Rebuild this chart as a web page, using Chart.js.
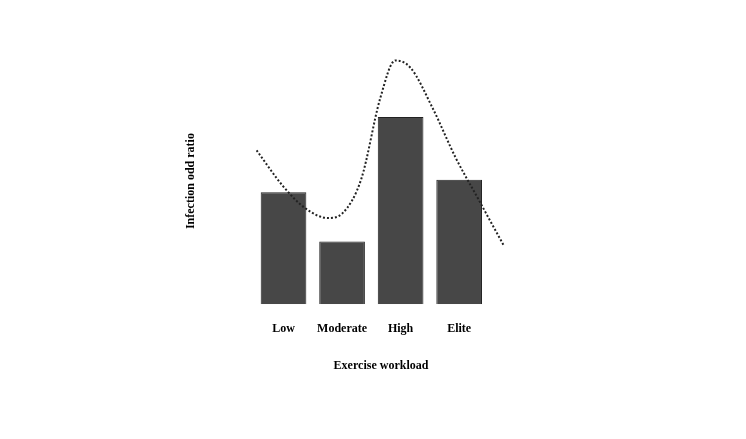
<!DOCTYPE html><html><head><script src="https://cdn.jsdelivr.net/npm/chart.js@4"></script>
<style>body{margin:0;background:#fff}#w{width:746px;height:439px}</style></head><body><div id="w"><canvas id="c"></canvas></div>
<script>
const categories=["Low","Moderate","High","Elite"];
const barValues=[91,51,152,101];
const curveX=[-0.46,-0.01,0.37,0.76,1.01,1.33,1.65,1.91,2.17,2.55,2.94,3.32,3.77];
const curveY=[125,96,78,70,74,102,167,198,192,159,119,86,47];
const F={family:"'Liberation Serif', serif",weight:'bold',size:12};
new Chart(document.getElementById('c'),{
data:{datasets:[
{type:'line',data:curveX.map((x,i)=>({x,y:curveY[i]})),borderColor:'#222',borderWidth:2,borderDash:[2,2],pointRadius:0,tension:0.4,cubicInterpolationMode:'monotone'},
{type:'bar',data:barValues.map((y,i)=>({x:i,y})),backgroundColor:'#474747',borderColor:'#222',borderWidth:1,barPercentage:0.78,categoryPercentage:1}
]},
options:{responsive:true,maintainAspectRatio:false,animation:false,
layout:{padding:{left:176,right:196,top:58,bottom:62}},
plugins:{legend:{display:false},tooltip:{enabled:false}},
scales:{
x:{type:'linear',min:-0.5,max:3.83,grid:{display:false,drawTicks:false},border:{display:false},
 afterBuildTicks:a=>{a.ticks=categories.map((c,i)=>({value:i}));},
 afterFit:s=>{s.paddingLeft=0;s.paddingRight=0;},
 ticks:{font:F,color:'#000',padding:18,maxRotation:0,callback:v=>categories[v]},
 title:{display:true,text:'Exercise workload',font:F,color:'#000',padding:{top:4}}},
y:{min:0,max:200,grid:{display:false,drawTicks:false},border:{display:false},ticks:{display:false},
 afterFit:s=>{s.width=36;},
 title:{display:true,text:'Infection odd ratio',font:F,color:'#000',padding:8}}
}}});
</script></body></html>
